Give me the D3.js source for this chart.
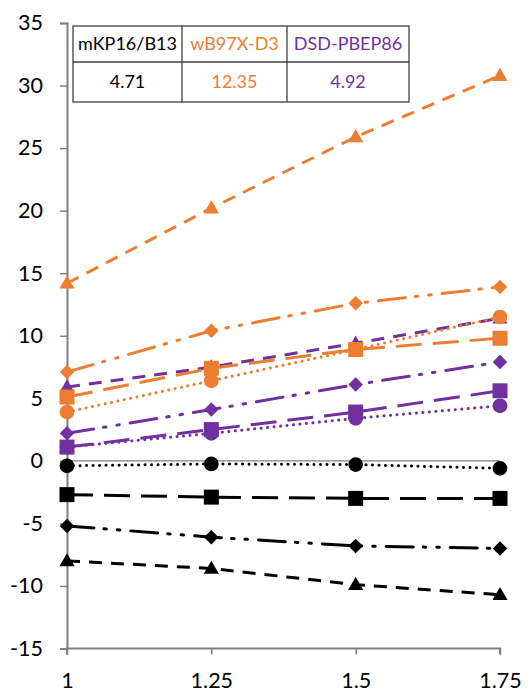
<!DOCTYPE html>
<html><head><meta charset="utf-8">
<script src="https://cdn.jsdelivr.net/npm/d3@7"></script>
<style>body{margin:0;background:#fff}svg{display:block}</style>
</head><body><div id="c"></div>
<script>
const xValues = [1, 1.25, 1.5, 1.75];
const xTickLabels = ["1", "1.25", "1.5", "1.75"];
const yTicks = [-15, -10, -5, 0, 5, 10, 15, 20, 25, 30, 35];
const methods = ["mKP16/B13", "wB97X-D3", "DSD-PBEP86"];
const methodScores = ["4.71", "12.35", "4.92"];

// black: mKP16/B13
const blackCircle = [-0.4, -0.25, -0.3, -0.6];
const blackSquare = [-2.7, -2.9, -3.0, -3.0];
const blackDiamond = [-5.2, -6.1, -6.8, -7.0];
const blackTriangle = [-8.0, -8.6, -9.9, -10.7];
// orange: wB97X-D3
const orangeCircle = [3.9, 6.4, 8.9, 11.5];
const orangeSquare = [5.1, 7.4, 8.9, 9.8];
const orangeDiamond = [7.1, 10.4, 12.6, 13.9];
const orangeTriangle = [14.2, 20.2, 25.9, 30.8];
// purple: DSD-PBEP86
const purpleCircle = [1.1, 2.2, 3.4, 4.4];
const purpleSquare = [1.1, 2.5, 3.9, 5.6];
const purpleDiamond = [2.2, 4.1, 6.1, 7.9];
const purpleTriangle = [5.9, 7.5, 9.4, 11.4];

const ORANGE = "#ED7D31", PURPLE = "#7030A0", BLACK = "#000000";
const dashes = {
  circle: "0.1 6.4",
  square: "26 11",
  diamond: "27 10 2.5 11 2.5 11",
  triangle: "13 9"
};
const series = [
  {v: purpleCircle, c: PURPLE, m: "circle"},
  {v: purpleSquare, c: PURPLE, m: "square"},
  {v: purpleDiamond, c: PURPLE, m: "diamond"},
  {v: purpleTriangle, c: PURPLE, m: "triangle"},
  {v: orangeCircle, c: ORANGE, m: "circle"},
  {v: orangeTriangle, c: ORANGE, m: "triangle"},
  {v: orangeDiamond, c: ORANGE, m: "diamond"},
  {v: orangeSquare, c: ORANGE, m: "square"},
  {v: blackCircle, c: BLACK, m: "circle"},
  {v: blackSquare, c: BLACK, m: "square"},
  {v: blackDiamond, c: BLACK, m: "diamond"},
  {v: blackTriangle, c: BLACK, m: "triangle"}
];

const W = 531, H = 692;
const svg = d3.select("#c").append("svg").attr("width", W).attr("height", H);
const x = d3.scaleLinear().domain([1, 1.75]).range([67, 500]);
const y = d3.scaleLinear().domain([-15, 35]).range([648.5, 23]);
const font = "Lato, 'Open Sans', sans-serif";
const axisColor = "#7f7f7f";

// zero line
svg.append("line").attr("x1", x(1)).attr("x2", x(1.75)).attr("y1", y(0)).attr("y2", y(0))
  .attr("stroke", axisColor).attr("stroke-width", 1.3);

// y axis
const ya = svg.append("g").attr("transform", `translate(${x(1)},0)`)
  .call(d3.axisLeft(y).tickValues(yTicks).tickSize(7).tickPadding(17).tickFormat(d3.format("d")));
ya.select(".domain").attr("stroke", axisColor).attr("stroke-width", 2);
ya.selectAll(".tick line").attr("stroke", axisColor).attr("stroke-width", 1.5);
ya.selectAll("text").attr("font-family", font).attr("font-size", 21.5).attr("fill", "#000")
  .text(d => d < 0 ? "-" + Math.abs(d) : d);

// x axis
const xa = svg.append("g").attr("transform", `translate(0,${y(-15)})`)
  .call(d3.axisBottom(x).tickValues(xValues).tickSize(6).tickPadding(18).tickFormat((d, i) => xTickLabels[i]));
xa.select(".domain").attr("stroke", axisColor).attr("stroke-width", 2).attr("d", `M${x(1)},6V0H${x(1.75)}V6`);
xa.selectAll(".tick line").attr("stroke", axisColor).attr("stroke-width", 1.5);
xa.selectAll("text").attr("font-family", font).attr("font-size", 21.5).attr("fill", "#000");

const line = d3.line().x((d, i) => x(xValues[i])).y(d => y(d));
const symSize = {circle: 170, square: 225, diamond: 135, triangle: 100};
const symType = {circle: d3.symbolCircle, square: d3.symbolSquare, diamond: d3.symbolDiamond2, triangle: d3.symbolTriangle};

series.forEach(s => {
  svg.append("path").attr("d", line(s.v)).attr("fill", "none").attr("stroke", s.c)
    .attr("stroke-width", 3)
    .attr("stroke-dasharray", dashes[s.m])
    .attr("stroke-linecap", (s.m === "circle" || s.m === "diamond") ? "round" : "butt");
  const sym = d3.symbol().type(symType[s.m]).size(symSize[s.m]);
  svg.append("g").selectAll("path").data(s.v).join("path")
    .attr("d", sym)
    .attr("transform", (d, i) => `translate(${x(xValues[i])},${y(d) + (s.m === "triangle" ? 1 : 0)})`)
    .attr("fill", s.c);
});

// table
const colX = [73, 182, 287, 409];
const rowY = [26, 62, 102];
const colors = [BLACK, ORANGE, PURPLE];
const tg = svg.append("g");
tg.append("rect").attr("x", colX[0]).attr("y", rowY[0]).attr("width", colX[3] - colX[0]).attr("height", rowY[2] - rowY[0])
  .attr("fill", "#fff").attr("stroke", "#404040").attr("stroke-width", 1.3);
tg.append("line").attr("x1", colX[0]).attr("x2", colX[3]).attr("y1", rowY[1]).attr("y2", rowY[1]).attr("stroke", "#404040").attr("stroke-width", 1.3);
[1, 2].forEach(i => tg.append("line").attr("x1", colX[i]).attr("x2", colX[i]).attr("y1", rowY[0]).attr("y2", rowY[2]).attr("stroke", "#404040").attr("stroke-width", 1.3));
methods.forEach((m, i) => {
  const cx = (colX[i] + colX[i + 1]) / 2;
  tg.append("text").attr("x", cx).attr("y", (rowY[0] + rowY[1]) / 2).attr("dy", "0.35em")
    .attr("text-anchor", "middle").attr("font-family", font).attr("font-size", 18).attr("fill", colors[i]).text(m);
  tg.append("text").attr("x", cx).attr("y", (rowY[1] + rowY[2]) / 2).attr("dy", "0.35em")
    .attr("text-anchor", "middle").attr("font-family", font).attr("font-size", 18).attr("fill", colors[i]).text(methodScores[i]);
});
</script></body></html>
